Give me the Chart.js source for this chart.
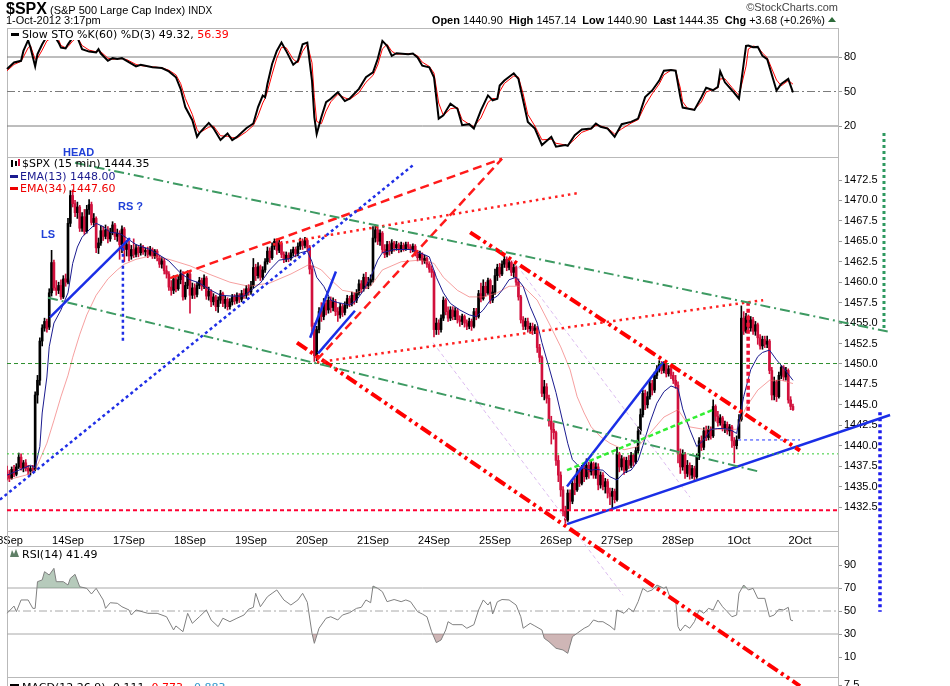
<!DOCTYPE html>
<html>
<head>
<meta charset="utf-8">
<script src="https://cdn.jsdelivr.net/npm/chart.js@4.4.1/dist/chart.umd.min.js"></script>
<style>
  html, body { margin: 0; padding: 0; background: #fff; }
  #wrap { position: relative; width: 950px; height: 686px; overflow: hidden; }
</style>
</head>
<body>
<div id="wrap"><canvas id="spxChart" width="950" height="686"></canvas></div>
<script>
// $SPX 15-minute bars, 13-Sep-2012 .. 1-Oct-2012 3:15pm, 26 bars per session
const sessions = ['13Sep', '14Sep', '17Sep', '18Sep', '19Sep', '20Sep', '21Sep', '24Sep', '25Sep', '26Sep', '27Sep', '28Sep', '1Oct', '2Oct'];
const barsPerSession = 26;

const opens = [
  1436.8,1436.4,1436.0,1437.1,1436.5,1437.4,1438.6,1437.3,1437.9,1437.2,1436.9,1437.2,1437.1,1446.2,1448.0,1452.8,1454.4,1455.2,1454.5,1458.7,1462.4,1459.3,1459.0,1459.6,1458.2,1460.4,
  1460.0,1467.2,1470.6,1469.6,1468.5,1469.2,1466.6,1468.0,1466.2,1468.9,1469.5,1467.3,1467.8,1464.2,1464.8,1466.3,1465.6,1466.4,1465.3,1466.1,1467.0,1465.6,1466.0,1464.6,1466.5,1464.0,
  1464.6,1463.2,1464.0,1463.4,1464.2,1463.6,1464.3,1463.7,1463.9,1463.4,1464.0,1463.2,1463.8,1463.0,1462.2,1462.6,1461.4,1461.0,1459.4,1459.0,1460.4,1459.2,1460.3,1461.0,1458.2,1459.6,
  1461.0,1458.4,1459.3,1458.5,1459.6,1460.2,1459.5,1460.5,1458.3,1458.9,1457.6,1458.2,1457.0,1457.8,1458.6,1457.4,1457.9,1457.0,1457.6,1458.2,1457.7,1458.4,1457.9,1458.6,1458.4,1459.2,
  1458.8,1459.6,1461.8,1460.8,1461.9,1460.6,1461.5,1462.5,1463.8,1463.0,1464.4,1465.0,1463.9,1464.8,1463.4,1462.8,1463.3,1462.9,1463.6,1464.0,1463.5,1464.4,1465.0,1464.5,1465.1,1464.3,
  1461.6,1454.6,1451.0,1454.2,1456.4,1455.8,1457.4,1456.6,1457.8,1456.9,1457.6,1456.4,1456.0,1457.0,1456.3,1457.2,1458.0,1457.4,1458.4,1457.8,1458.7,1459.8,1459.2,1460.6,1459.6,1460.0,
  1460.3,1465.4,1466.4,1465.0,1466.0,1464.0,1463.4,1464.6,1463.8,1464.8,1464.2,1464.6,1464.0,1464.5,1464.1,1464.6,1464.3,1464.0,1464.4,1463.6,1463.0,1463.4,1462.6,1462.9,1462.2,1461.6,
  1461.2,1454.2,1455.0,1454.2,1455.6,1457.8,1456.4,1455.6,1456.6,1455.8,1456.5,1455.4,1455.2,1455.8,1455.0,1454.6,1455.2,1454.6,1456.4,1455.8,1458.6,1458.0,1459.5,1458.7,1460.2,1457.8,
  1458.8,1460.8,1461.8,1461.0,1462.2,1462.8,1461.8,1462.4,1461.2,1461.8,1460.0,1458.2,1455.4,1454.6,1455.2,1454.3,1454.6,1454.1,1454.4,1452.0,1450.8,1446.4,1447.2,1445.8,1443.0,1442.0,
  1441.6,1438.2,1436.4,1434.6,1432.0,1430.9,1434.2,1433.2,1435.4,1434.6,1436.8,1435.4,1437.2,1436.2,1437.6,1436.8,1437.8,1436.4,1437.4,1435.2,1436.4,1435.0,1435.6,1434.2,1433.8,1434.4,
  1433.4,1439.0,1437.4,1438.4,1437.0,1438.2,1437.6,1438.8,1438.0,1439.4,1441.8,1443.8,1446.4,1445.0,1446.0,1447.6,1446.8,1448.6,1449.4,1450.0,1449.2,1450.0,1448.8,1449.4,1448.6,1448.0,
  1447.4,1439.0,1437.4,1439.0,1436.6,1437.6,1436.4,1437.2,1436.2,1438.6,1440.6,1439.8,1441.8,1441.0,1442.0,1441.2,1444.8,1443.6,1442.8,1443.4,1442.2,1442.6,1441.8,1442.3,1440.6,1440.0,
  1440.9,1443.2,1455.6,1454.0,1455.8,1454.4,1455.4,1454.0,1454.8,1453.2,1452.2,1453.0,1452.4,1452.8,1449.2,1446.2,1447.8,1446.0,1448.6,1449.6,1448.4,1449.2,1445.6,1444.8
];
const highs = [
  1437.5,1437.0,1437.4,1437.6,1437.8,1439.1,1439.0,1438.2,1438.3,1437.6,1437.5,1437.6,1446.6,1448.6,1453.2,1454.8,1455.6,1455.5,1459.2,1463.9,1462.7,1460.2,1460.0,1460.3,1460.8,1461.0,
  1467.8,1471.2,1471.3,1470.0,1469.8,1469.4,1468.5,1468.9,1469.4,1470.1,1469.8,1468.4,1468.0,1465.4,1466.9,1466.8,1467.0,1466.8,1466.6,1467.4,1467.2,1466.5,1466.3,1466.9,1466.7,1465.1,
  1465.0,1464.5,1465.3,1464.6,1464.5,1464.7,1464.5,1464.2,1464.3,1464.4,1464.2,1464.0,1464.0,1463.3,1463.0,1462.9,1462.0,1461.3,1460.2,1460.8,1460.6,1460.8,1461.5,1461.3,1460.0,1461.4,
  1461.2,1459.9,1459.8,1460.0,1460.6,1460.5,1460.9,1460.7,1459.4,1459.1,1458.6,1458.4,1458.2,1459.0,1458.8,1458.3,1458.1,1458.0,1458.5,1458.5,1458.7,1458.6,1459.0,1459.2,1459.6,1459.7,
  1460.1,1462.9,1462.2,1462.4,1462.1,1461.9,1462.9,1464.3,1464.2,1464.8,1465.3,1465.3,1465.2,1465.0,1463.7,1463.7,1463.6,1464.0,1464.3,1464.3,1464.8,1465.4,1465.3,1465.5,1465.3,1464.5,
  1462.0,1455.0,1454.6,1456.9,1457.5,1458.0,1457.8,1458.2,1458.2,1458.1,1457.9,1456.9,1457.4,1457.3,1457.6,1458.4,1458.3,1458.8,1458.7,1459.1,1460.3,1460.2,1461.0,1461.2,1460.6,1460.9,
  1466.8,1467.0,1466.8,1466.4,1466.2,1464.6,1465.0,1465.0,1465.2,1465.0,1465.0,1464.8,1464.9,1464.8,1464.9,1464.9,1464.6,1464.7,1464.6,1463.9,1463.8,1463.6,1463.3,1463.1,1462.5,1462.0,
  1461.4,1455.6,1455.4,1456.0,1458.2,1458.0,1457.0,1457.0,1457.0,1456.9,1456.8,1455.9,1456.1,1456.0,1455.4,1455.6,1455.5,1456.8,1456.8,1459.0,1459.9,1460.3,1460.0,1460.5,1460.4,1459.6,
  1461.6,1462.2,1462.3,1462.6,1463.2,1463.1,1462.8,1462.6,1462.2,1462.0,1460.4,1458.4,1455.8,1455.6,1455.6,1455.0,1455.0,1454.8,1454.6,1452.4,1451.0,1448.0,1447.6,1446.2,1443.6,1442.8,
  1441.8,1438.8,1436.8,1435.0,1432.6,1434.6,1434.6,1435.8,1436.0,1437.2,1437.2,1437.6,1437.8,1438.4,1438.0,1438.2,1438.0,1437.9,1437.8,1436.8,1436.7,1436.0,1435.9,1434.8,1434.8,1434.7,
  1439.8,1439.2,1438.8,1438.6,1438.6,1438.8,1439.2,1439.0,1439.8,1442.3,1444.5,1446.8,1446.8,1446.6,1448.0,1448.0,1449.0,1449.8,1450.4,1450.3,1450.3,1450.1,1449.8,1449.6,1449.0,1448.6,
  1447.8,1439.6,1439.5,1439.2,1438.2,1437.9,1437.6,1437.5,1439.0,1441.0,1441.2,1442.2,1442.4,1442.4,1442.3,1445.6,1445.0,1444.2,1443.8,1443.6,1443.0,1442.9,1442.6,1442.5,1441.0,1441.2,
  1443.8,1457.1,1456.4,1456.2,1456.0,1455.8,1455.7,1455.2,1455.0,1453.6,1453.4,1453.4,1453.4,1453.0,1449.6,1448.4,1448.0,1449.0,1449.8,1449.8,1449.6,1449.4,1446.0,1445.1
];
const lows = [
  1435.8,1435.6,1435.9,1436.2,1436.3,1437.2,1437.0,1436.8,1436.9,1436.5,1436.4,1436.7,1436.9,1445.2,1447.4,1452.2,1454.0,1453.9,1454.2,1458.3,1459.0,1458.4,1458.6,1457.9,1458.0,1459.5,
  1459.8,1466.8,1469.2,1468.0,1467.8,1466.2,1466.2,1465.8,1466.0,1468.3,1467.0,1466.8,1463.6,1463.5,1464.5,1465.1,1465.3,1464.8,1465.0,1465.8,1465.2,1465.0,1462.8,1463.6,1462.5,1463.2,
  1462.6,1462.8,1463.0,1463.1,1463.1,1463.3,1463.4,1463.2,1463.0,1463.2,1462.9,1462.9,1462.6,1461.8,1461.7,1461.0,1460.5,1459.0,1458.4,1458.6,1458.8,1459.0,1459.8,1457.8,1457.9,1459.2,
  1456.2,1458.0,1458.0,1458.2,1459.2,1459.0,1459.2,1457.9,1457.8,1457.0,1457.2,1456.5,1456.3,1457.4,1457.0,1456.8,1456.6,1456.7,1457.2,1457.3,1457.4,1457.5,1457.6,1458.0,1458.0,1458.4,
  1458.5,1459.3,1460.2,1460.5,1460.2,1460.3,1461.2,1462.2,1462.4,1462.8,1464.0,1463.4,1463.6,1463.0,1462.4,1462.5,1462.5,1462.7,1463.2,1463.1,1463.2,1464.0,1464.0,1464.2,1463.8,1461.0,
  1454.0,1450.3,1450.4,1453.8,1455.2,1455.4,1456.0,1456.2,1456.3,1456.5,1455.9,1455.2,1455.6,1455.8,1456.0,1456.8,1457.0,1457.1,1457.3,1457.5,1458.4,1458.7,1458.9,1459.2,1459.2,1459.6,
  1460.0,1464.9,1464.6,1464.5,1463.6,1463.0,1463.1,1463.3,1463.5,1463.8,1463.9,1463.6,1463.7,1463.8,1463.9,1464.0,1463.6,1463.7,1463.2,1462.6,1462.7,1462.2,1462.3,1461.8,1461.2,1460.6,
  1453.3,1453.6,1453.6,1453.9,1455.3,1456.0,1455.2,1455.3,1455.4,1455.4,1455.0,1454.6,1454.8,1454.5,1454.2,1454.3,1454.1,1454.4,1455.4,1455.6,1457.6,1457.8,1458.3,1458.5,1457.4,1457.5,
  1458.5,1460.2,1460.6,1460.8,1461.8,1461.4,1461.5,1460.8,1460.6,1459.6,1457.8,1455.0,1454.2,1454.2,1453.9,1453.8,1453.6,1453.7,1451.4,1450.2,1446.0,1445.6,1445.2,1442.4,1440.2,1440.8,
  1437.6,1435.6,1433.8,1431.4,1430.5,1430.7,1432.2,1432.9,1434.0,1434.4,1435.0,1435.2,1435.6,1435.9,1436.0,1436.4,1436.0,1436.0,1434.6,1434.8,1434.6,1434.2,1433.6,1432.8,1432.2,1433.0,
  1433.2,1436.8,1437.0,1436.5,1436.7,1437.2,1437.3,1437.5,1437.8,1439.1,1441.4,1443.5,1444.4,1444.6,1445.7,1446.2,1446.5,1448.2,1449.0,1448.8,1448.9,1448.4,1448.5,1448.2,1447.6,1447.0,
  1437.9,1436.6,1437.0,1436.0,1436.2,1435.9,1436.0,1435.8,1436.0,1438.3,1439.4,1439.5,1440.6,1440.7,1440.8,1441.0,1443.0,1442.4,1442.5,1441.8,1441.6,1441.4,1441.2,1439.8,1437.9,1439.6,
  1440.9,1443.0,1453.6,1453.8,1454.0,1454.0,1453.6,1453.5,1452.4,1451.8,1451.8,1452.0,1452.0,1448.8,1445.6,1445.6,1445.4,1445.8,1448.2,1448.0,1448.0,1445.2,1444.4,1444.3
];
const closes = [
  1436.4,1436.0,1437.1,1436.5,1437.4,1438.6,1437.3,1437.9,1437.2,1436.9,1437.2,1437.1,1446.2,1448.0,1452.8,1454.4,1455.2,1454.3,1458.7,1462.4,1459.3,1459.0,1459.6,1458.2,1460.4,1460.0,
  1467.2,1470.6,1469.6,1468.5,1469.2,1466.6,1468.0,1466.2,1468.9,1469.5,1467.3,1467.8,1464.2,1464.8,1466.3,1465.6,1466.4,1465.3,1466.1,1467.0,1465.6,1466.0,1464.6,1466.5,1464.0,1464.6,
  1463.2,1464.0,1463.4,1464.2,1463.6,1464.3,1463.7,1463.9,1463.4,1464.0,1463.2,1463.8,1463.0,1462.2,1462.6,1461.4,1461.0,1459.4,1459.0,1460.4,1459.2,1460.3,1461.0,1458.2,1459.6,1461.0,
  1458.4,1459.3,1458.5,1459.6,1460.2,1459.5,1460.5,1458.3,1458.9,1457.6,1458.2,1457.0,1457.8,1458.6,1457.4,1457.9,1457.0,1457.6,1458.2,1457.7,1458.4,1457.9,1458.6,1458.4,1459.2,1458.8,
  1459.6,1461.8,1460.8,1461.9,1460.6,1461.5,1462.5,1463.8,1463.0,1464.4,1465.0,1463.9,1464.8,1463.4,1462.8,1463.3,1462.9,1463.6,1464.0,1463.5,1464.4,1465.0,1464.5,1465.1,1464.3,1461.6,
  1454.6,1451.0,1454.2,1456.4,1455.8,1457.4,1456.6,1457.8,1456.9,1457.6,1456.4,1456.0,1457.0,1456.3,1457.2,1458.0,1457.4,1458.4,1457.8,1458.7,1459.8,1459.2,1460.6,1459.6,1460.0,1460.3,
  1465.4,1466.4,1465.0,1466.0,1464.0,1463.4,1464.6,1463.8,1464.8,1464.2,1464.6,1464.0,1464.5,1464.1,1464.6,1464.3,1464.0,1464.4,1463.6,1463.0,1463.4,1462.6,1462.9,1462.2,1461.6,1461.2,
  1454.2,1455.0,1454.2,1455.6,1457.8,1456.4,1455.6,1456.6,1455.8,1456.5,1455.4,1455.2,1455.8,1455.0,1454.6,1455.2,1454.6,1456.4,1455.8,1458.6,1458.0,1459.5,1458.7,1460.2,1457.8,1458.8,
  1460.8,1461.8,1461.0,1462.2,1462.8,1461.8,1462.4,1461.2,1461.8,1460.0,1458.2,1455.4,1454.6,1455.2,1454.3,1454.6,1454.1,1454.4,1452.0,1450.8,1446.4,1447.2,1445.8,1443.0,1442.0,1441.6,
  1438.2,1436.4,1434.6,1432.0,1430.9,1434.2,1433.2,1435.4,1434.6,1436.8,1435.4,1437.2,1436.2,1437.6,1436.8,1437.8,1436.4,1437.4,1435.2,1436.4,1435.0,1435.6,1434.2,1433.8,1434.4,1433.4,
  1439.0,1437.4,1438.4,1437.0,1438.2,1437.6,1438.8,1438.0,1439.4,1441.8,1443.8,1446.4,1445.0,1446.0,1447.6,1446.8,1448.6,1449.4,1450.0,1449.2,1450.0,1448.8,1449.4,1448.6,1448.0,1447.4,
  1439.0,1437.4,1439.0,1436.6,1437.6,1436.4,1437.2,1436.2,1438.6,1440.6,1439.8,1441.8,1441.0,1442.0,1441.2,1444.8,1443.6,1442.8,1443.4,1442.2,1442.6,1441.8,1442.3,1440.6,1440.0,1440.7,
  1443.2,1455.6,1454.0,1455.8,1454.4,1455.4,1454.0,1454.8,1453.2,1452.2,1453.0,1452.4,1452.8,1449.2,1446.2,1447.8,1446.0,1448.6,1449.6,1448.4,1449.2,1445.6,1444.8,1444.4
];

// overlays: bar index -> value
const ema13Bars = [0,10,12,14,15,17,18,20,23,26,28,30,32,35,38,41,44,47,49,52,55,61,65,69,74,78,82,87,91,96,101,104,108,112,116,121,125,128,130,132,135,138,141,143,146,149,152,155,158,160,165,172,176,180,183,186,189,193,197,200,203,206,209,211,214,217,220,223,226,228,231,234,237,239,241,244,249,251,254,257,260,263,266,269,271,274,277,280,283,286,288,291,294,297,300,303,305,308,311,314,317,320,322,325,328,331,335];
const ema13 = [1436.4,1437.6,1437.3,1439.9,1444.0,1448.4,1452.1,1455.0,1456.6,1458.7,1462.3,1464.3,1465.5,1466.4,1467.2,1466.8,1466.1,1466.0,1465.8,1465.2,1464.6,1464.0,1463.3,1462.6,1461.1,1460.3,1459.9,1459.0,1458.4,1458.3,1458.3,1459.0,1459.9,1461.5,1462.7,1462.9,1463.6,1463.8,1462.5,1460.6,1459.5,1457.8,1457.5,1457.4,1457.2,1457.8,1459.0,1460.6,1462.7,1463.6,1464.0,1464.0,1463.6,1463.1,1460.6,1458.7,1457.4,1456.6,1456.0,1455.8,1456.6,1457.8,1458.3,1459.0,1460.3,1460.6,1459.5,1457.0,1455.0,1452.6,1449.6,1446.5,1442.8,1440.3,1438.3,1437.4,1437.0,1437.1,1437.0,1436.2,1435.8,1436.7,1437.0,1438.2,1440.0,1442.8,1445.2,1446.6,1447.3,1447.0,1444.5,1442.0,1439.9,1440.7,1442.0,1442.1,1442.1,1442.0,1441.5,1446.0,1449.3,1450.9,1451.4,1451.7,1450.5,1449.5,1448.0];
const ema34Bars = [0,8,12,14,17,20,23,26,28,31,34,38,43,47,50,55,61,69,78,86,95,103,112,121,129,134,138,143,149,155,160,168,176,182,186,192,197,203,209,214,220,226,231,236,240,243,246,249,253,257,263,269,274,280,286,291,297,303,308,311,315,320,325,330,335];
const ema34 = [1435.8,1436.4,1437.0,1438.3,1440.3,1443.1,1446.0,1448.6,1450.8,1453.6,1456.0,1458.4,1460.4,1461.5,1462.2,1462.8,1463.2,1462.8,1462.0,1461.0,1460.0,1459.5,1459.9,1461.0,1462.2,1461.5,1460.3,1459.0,1458.7,1459.5,1461.5,1462.5,1462.7,1462.3,1460.6,1459.0,1458.2,1458.2,1458.7,1459.5,1459.5,1457.8,1455.0,1452.1,1449.3,1446.0,1444.0,1442.3,1441.1,1440.3,1439.5,1439.9,1441.5,1443.5,1444.4,1442.3,1442.0,1442.0,1442.0,1442.0,1444.7,1446.8,1448.0,1448.0,1447.6];

const stochBars = [0,3,6,7,9,10,12,13,15,17,20,22,23,25,26,28,30,32,35,38,39,40,43,45,47,49,51,55,57,62,66,69,72,74,76,79,81,82,86,88,91,94,96,98,102,105,107,109,110,111,113,115,117,119,122,124,126,128,130,131,132,134,136,138,141,144,146,150,153,156,158,160,162,164,166,171,173,175,177,180,182,184,186,189,192,194,197,199,202,205,207,209,210,212,216,218,220,222,225,228,232,234,238,239,242,245,249,251,253,256,259,262,266,269,272,275,278,280,283,285,287,288,290,293,296,298,301,303,304,306,309,312,315,316,318,320,322,324,328,330,333,335];
const stochK = [69.6,75.3,76.7,85.3,94.6,88.2,71.8,82.5,91.1,98,99,92.5,88.2,87.5,91,97,97,86.8,84.7,84,86.8,83,76.7,79,78.2,79,76.7,71.8,73.2,71,70.4,67.5,62.4,52.3,36.5,25,10.6,13.8,22.7,18,7.8,13.5,7.8,10.5,18,22.2,36.5,46.5,45,56.6,73.9,85.3,92.5,85.3,73.3,76.7,91.1,92.5,59.5,27.8,13,27.8,40.8,43.7,49.4,41.7,43.7,52.3,62.4,66.7,78.2,94,89.7,81,83.3,82.5,83,79.6,72.4,71,62.4,26.4,29.2,39.4,35,20.7,21.6,17.9,33.6,46.6,42.3,43.7,55.2,59.5,65.8,60.9,42.2,23.5,17.7,3.4,10.6,2,3.4,2.8,12,16.9,17.8,22.2,19.3,17.8,10.6,21.6,23.6,26.4,45.1,50.9,59.5,68.1,68.7,68.1,45.1,36,35.2,34,45.1,53.2,51.1,54,67.5,58,51.1,43.7,89.7,90,88.5,88.8,81,78.2,50.9,56.6,61,49.3];
const stochD = [68,73.5,76.2,80,88,90,78,79,86,94,98,95,90,88,89,94,97,90,86,84.5,85.5,84.5,79,78,78.5,78.6,77.8,73.5,72.5,71.5,70.6,68.5,64.5,57,44,30,17,14,19,20,11.5,11,10,9.5,15,20.5,29,40,44,50,65,79,88.5,88,78,75,85,91,75,45,24,22,33,41,47.5,44.5,43,49,58,64,73,87,91,85,82.5,82.8,82.8,81,75.5,71.8,66,40,29,35,36,25.5,21.5,19.5,27,40.5,44,43.5,50,57,63.5,62.5,48,30,20,8,8.5,5,3.5,3,8.5,14.5,17.5,20.5,20,18.3,13,17.5,22.5,25.5,38,48,56.5,64.5,68.5,68.3,53,41,35.5,34.3,41,49.5,51.8,53.2,61,61,53.5,46.5,72,87,89.5,88.7,83.5,79.5,60,55,59.5,56.4];

const rsiBars = [0,3,4,6,9,11,12,13,15,16,18,20,21,24,26,27,29,31,34,36,38,41,42,44,47,49,52,53,55,60,64,68,71,72,75,77,79,82,85,87,90,92,95,98,101,103,105,106,108,111,113,115,118,121,124,126,128,130,131,133,136,138,141,143,146,149,151,153,155,156,158,160,162,165,168,170,172,175,177,179,181,183,185,187,188,190,194,196,199,201,203,205,206,207,209,211,214,217,219,220,223,225,228,229,231,234,237,239,241,243,246,248,250,252,254,257,259,260,263,265,267,269,271,273,275,277,280,281,283,285,286,287,289,291,293,295,297,299,301,303,305,307,309,311,312,314,316,318,320,323,325,327,329,331,333,334,335];
const rsi = [48,54.3,49.4,59.6,59.6,52.3,52.3,75.5,77,84.2,81.3,87.1,75.5,75.5,72.6,78.4,81.9,71.1,69.7,64.8,69.7,59.6,52.3,57.2,56.7,53.7,50.9,46.5,50.9,48,48,45,33.5,37,32,48,39.3,45,50.9,42.2,36.4,43.7,40.7,43.7,46.5,51.5,53.2,65.4,53.7,62.4,65.4,68.3,59.6,55.2,59.6,65.4,57.6,30.6,21.9,35,43.7,45,42.2,46.5,48.5,52.3,53.2,59.6,57.2,71.7,69.7,66.8,58.1,60,58.1,59.6,58.1,49.4,47.4,45,32,22.5,24.8,33.5,40.7,38.1,38.1,35,38.1,50.9,59.6,55.2,58,47.4,58,60,59.6,55.2,45,35,39.3,37,33.5,26.3,23.3,17.6,16.1,13.2,27.7,30.6,35,37,42.2,40.7,40.7,37,33.5,50.9,48,52.3,49.4,58.1,69.7,66.8,68.3,72.6,69.7,71.1,59.6,59.6,36.4,32.6,37.8,35,40.7,50.9,48,52.3,50.9,59.6,53.7,49.4,45,46.5,65.4,72.6,68.3,69.7,61,61,45,46.5,51.5,50.9,53.2,42.2,41.5];

// axis labels and indicator levels
const priceTicks = [1432.5, 1435, 1437.5, 1440, 1442.5, 1445, 1447.5, 1450, 1452.5, 1455, 1457.5, 1460, 1462.5, 1465, 1467.5, 1470, 1472.5];
const stochTicks = [80, 50, 20];
const rsiTicks = [90, 70, 50, 30, 10];
const macdTicks = [7.5];
const stochLevels = [80, 50, 20];
const rsiLevels = [70, 50, 30];

// hand-drawn trend lines: [bar index, price]
const trendLines = [
  { from: [29, 1474.6], to: [376.4, 1453.9], style: 'greenDashDot' },
  { from: [17.5, 1458.1], to: [321, 1436.8], style: 'greenDashDot' },
  { from: [-3, 1433.4], to: [173, 1474.3], style: 'blueDotted' },
  { from: [69.5, 1460.5], to: [211, 1475.1], style: 'redDashed' },
  { from: [132.1, 1450.5], to: [211, 1475.1], style: 'redDashed' },
  { from: [113.4, 1464.6], to: [243.4, 1470.9], style: 'redDotted' },
  { from: [132.1, 1450.2], to: [322.3, 1457.8], style: 'redDotted' },
  { from: [123.6, 1452.6], to: [338, 1410.6], style: 'redDashDotDot' },
  { from: [197.4, 1466.1], to: [338, 1439.4], style: 'redDashDotDot' },
  { from: [315.9, 1457.6], to: [315.9, 1444.0], style: 'redVertical' },
  { from: [0, 1432.1], to: [354.2, 1432.1], style: 'redHorizontal' },
  { from: [0, 1450.05], to: [354.2, 1450.05], style: 'greenThinDashed' },
  { from: [0, 1439.0], to: [354.2, 1439.0], style: 'limeThinDotted' },
  { from: [311.6, 1440.7], to: [338, 1440.7], style: 'blueThinDashed' },
  { from: [238.7, 1430.4], to: [376.4, 1443.75], style: 'blueSolid' },
  { from: [238.7, 1435.0], to: [279.6, 1450.2], style: 'blueSolid' },
  { from: [238.7, 1437.0], to: [301, 1444.4], style: 'limeDashed' },
  { from: [18.3, 1455.7], to: [52.4, 1465.4], style: 'blueSolid' },
  { from: [49.4, 1464.2], to: [49.4, 1452.6], style: 'blueDotted' },
  { from: [129.2, 1453.2], to: [140.2, 1461.3], style: 'blueSolid' },
  { from: [132.6, 1451.3], to: [148.3, 1456.5], style: 'blueSolid' },
  { from: [181.6, 1452.6], to: [262.6, 1421.7], style: 'lilac' },
  { from: [215.7, 1462.7], to: [291.1, 1433.7], style: 'lilac' },
  { from: [373.8, 1478.25], to: [373.8, 1454.4], style: 'greenVertical' },
  { from: [372.1, 1444.1], to: [372.1, 1419.7], style: 'blueVertical' }
];

const lineStyles = {
  greenDashDot:    { color: '#3d9a62', width: 2,   dash: [10, 4, 2, 4] },
  blueDotted:      { color: '#1f2fe6', width: 2.5, dash: [3, 3] },
  redDashed:       { color: '#ff1a1a', width: 2.5, dash: [9, 5] },
  redDotted:       { color: '#ff2020', width: 2.5, dash: [2.5, 4] },
  redDashDotDot:   { color: '#ff0000', width: 4,   dash: [12, 4, 3, 4, 3, 4] },
  redVertical:     { color: '#ee1133', width: 3.5, dash: [4, 3] },
  redHorizontal:   { color: '#ff0033', width: 2,   dash: [4, 3] },
  greenThinDashed: { color: '#2d8f2d', width: 1,   dash: [4, 3] },
  limeThinDotted:  { color: '#33cc33', width: 1,   dash: [2, 3] },
  blueThinDashed:  { color: '#2233ff', width: 1,   dash: [3, 3] },
  blueSolid:       { color: '#1a2ee6', width: 2.5, dash: [] },
  limeDashed:      { color: '#33ee33', width: 2.5, dash: [5, 3] },
  lilac:           { color: '#dcbcf0', width: 1,   dash: [4, 3] },
  greenVertical:   { color: '#2e9960', width: 3,   dash: [3, 3] },
  blueVertical:    { color: '#1a1aee', width: 3.5, dash: [3, 3] }
};

const RED = '#d1103c';
const BLACK = '#000';
const AREA = { left: 7, top: 28, right: 838, bottom: 686 };
const X_MIN = 0, X_MAX = 354.2;

// every value axis spans the whole plot height; pick min/max so that v1 sits at pixel p1 and v2 at p2
function axisRange(v1, p1, v2, p2) {
  const perPx = (v1 - v2) / (p2 - p1);
  return { min: v1 - (AREA.bottom - p1) * perPx, max: v1 + (p1 - AREA.top) * perPx };
}
function valueAt(range, px) {
  return range.max - (px - AREA.top) * (range.max - range.min) / (AREA.bottom - AREA.top);
}
const stochRange = axisRange(80, 57, 20, 126);
const priceRange = axisRange(1472.5, 180, 1432.5, 507);
const rsiRange = axisRange(70, 588, 30, 634);
const macdRange = axisRange(7.5, 685, 0, 735);

const tickFont = { family: 'Arial, "Liberation Sans", sans-serif', size: 11 };
function panelAxis(range, ticks, fmt) {
  return {
    type: 'linear', position: 'right', min: range.min, max: range.max,
    afterBuildTicks: s => { s.ticks = ticks.map(v => ({ value: v })); },
    afterFit: s => { s.width = 0; s.paddingTop = 0; s.paddingBottom = 0; },
    grid: { display: true, drawOnChartArea: false, drawTicks: true, tickLength: 4, color: '#9a9a9a' },
    border: { display: false },
    ticks: { padding: 2, color: '#000', font: tickFont, autoSkip: false, callback: fmt }
  };
}

const pts = (bars, vals) => bars.map((b, k) => ({ x: b, y: vals[k] }));
function lineSet(data, yAxisID, color, width, extra) {
  return Object.assign({ type: 'line', data, yAxisID, borderColor: color, borderWidth: width,
    pointRadius: 0, fill: false, tension: 0 }, extra || {});
}
const levelLine = (axis, v, color) => lineSet([{ x: X_MIN, y: v }, { x: X_MAX, y: v }], axis, color, 1,
  { borderDash: v === 50 ? [8, 3, 2, 3] : [], order: 9 });

const isDown = i => closes[i] < opens[i];
const candleColor = ctx => isDown(ctx.dataIndex) ? RED : BLACK;

const datasets = [];
stochLevels.forEach(v => datasets.push(levelLine('stoch', v, '#7c7c7c')));
rsiLevels.forEach(v => datasets.push(levelLine('rsi', v, '#a8a8a8')));

datasets.push({ type: 'bar', yAxisID: 'price', order: 8, grouped: false, barThickness: 1,
  data: closes.map((c, i) => ({ x: i, y: [lows[i], highs[i]] })), backgroundColor: candleColor });
datasets.push({ type: 'bar', yAxisID: 'price', order: 7, grouped: false, barThickness: 2, minBarLength: 1,
  data: closes.map((c, i) => ({ x: i, y: [opens[i], c] })), backgroundColor: candleColor });

datasets.push(lineSet(pts(ema34Bars, ema34), 'price', 'rgba(240,96,96,0.6)', 1, { order: 6 }));
datasets.push(lineSet(pts(ema13Bars, ema13), 'price', '#1b1b8f', 1, { order: 5 }));

datasets.push(lineSet(pts(stochBars, stochD), 'stoch', '#ff0000', 1, { order: 5 }));
datasets.push(lineSet(pts(stochBars, stochK), 'stoch', '#000', 2, { order: 4 }));

datasets.push(lineSet(pts(rsiBars, rsi), 'rsi', 'rgba(0,0,0,0)', 0,
  { order: 6, fill: { target: { value: 70 }, above: 'rgba(110,150,120,0.5)', below: 'rgba(0,0,0,0)' } }));
datasets.push(lineSet(pts(rsiBars, rsi), 'rsi', 'rgba(0,0,0,0)', 0,
  { order: 6, fill: { target: { value: 30 }, above: 'rgba(0,0,0,0)', below: 'rgba(160,110,110,0.5)' } }));
datasets.push(lineSet(pts(rsiBars, rsi), 'rsi', '#808080', 1, { order: 4 }));

trendLines.forEach(t => {
  const st = lineStyles[t.style];
  datasets.push(lineSet([{ x: t.from[0], y: t.from[1] }, { x: t.to[0], y: t.to[1] }], 'price',
    st.color, st.width, { borderDash: st.dash, clip: false, order: t.style === 'lilac' ? 3 : 1 }));
});

function runText(ctx, x, y, parts) {
  for (const [text, font, color] of parts) {
    ctx.font = font; ctx.fillStyle = color; ctx.fillText(text, x, y);
    x += ctx.measureText(text).width;
  }
  return x;
}
function textWidth(ctx, parts) {
  let w = 0;
  for (const [text, font] of parts) { ctx.font = font; w += ctx.measureText(text).width; }
  return w;
}

const LEG = '11px "DejaVu Sans", Verdana, sans-serif';
const panels = [[28, 157], [157, 531], [546, 677], [677, 700]];

const scFrame = {
  id: 'scFrame',
  afterLayout(chart) {
    // value axes are laid out with zero width; give their labels room to the right of the plot
    ['stoch', 'price', 'rsi', 'macd'].forEach(id => { chart.scales[id].right = chart.scales[id].left + 110; });
  },
  beforeDatasetsDraw(chart) {
    const ctx = chart.ctx;
    ctx.save();
    ctx.strokeStyle = '#b9b9b9';
    ctx.lineWidth = 1;
    panels.forEach(([t, b]) => ctx.strokeRect(AREA.left + 0.5, t + 0.5, AREA.right - AREA.left, b - t));
    ctx.beginPath();
    ctx.moveTo(AREA.left + 0.5, 28); ctx.lineTo(AREA.left + 0.5, 686);
    ctx.moveTo(AREA.right + 0.5, 28); ctx.lineTo(AREA.right + 0.5, 686);
    ctx.stroke();
    ctx.restore();
  },
  afterDatasetsDraw(chart) {
    const ctx = chart.ctx;
    ctx.save();
    ctx.textBaseline = 'alphabetic';

    // header
    runText(ctx, 6, 14, [['$SPX', 'bold 16px Arial, "Liberation Sans"', '#000'],
      [' (S&P 500 Large Cap Index) ', '11px Arial, "Liberation Sans"', '#000'],
      ['INDX', '10px Arial, "Liberation Sans"', '#000']]);
    runText(ctx, 6, 24, [['1-Oct-2012 3:17pm', '11px Arial, "Liberation Sans"', '#000']]);
    const B = 'bold 11px Arial, "Liberation Sans"', N = '11px Arial, "Liberation Sans"';
    const quote = [['Open ', B, '#000'], ['1440.90  ', N, '#000'], ['High ', B, '#000'], ['1457.14  ', N, '#000'],
      ['Low ', B, '#000'], ['1440.90  ', N, '#000'], ['Last ', B, '#000'], ['1444.35  ', N, '#000'],
      ['Chg ', B, '#000'], ['+3.68 (+0.26%)', N, '#000']];
    runText(ctx, 825 - textWidth(ctx, quote), 24, quote);
    ctx.fillStyle = '#2e6b3a';
    ctx.beginPath(); ctx.moveTo(828, 22); ctx.lineTo(836, 22); ctx.lineTo(832, 17); ctx.closePath(); ctx.fill();
    ctx.font = '11px Arial, "Liberation Sans"'; ctx.fillStyle = '#444'; ctx.textAlign = 'right';
    ctx.fillText('\u00A9StockCharts.com', 838, 11);
    ctx.textAlign = 'left';

    // stochastic legend plate
    ctx.fillStyle = '#fff';
    ctx.fillRect(8, 29, 228, 11);
    ctx.fillStyle = '#000'; ctx.fillRect(11, 33, 8, 3);
    runText(ctx, 22, 38, [['Slow STO %K(60) %D(3) 49.32, ', LEG, '#000'], ['56.39', LEG, '#ff0000']]);

    // price legend
    ctx.fillStyle = '#000'; ctx.fillRect(11, 160, 2, 7); ctx.fillRect(15, 161, 2, 5);
    ctx.fillStyle = RED; ctx.fillRect(18, 159, 2, 7);
    runText(ctx, 22, 167, [['$SPX (15 min) 1444.35', LEG, '#000']]);
    ctx.fillStyle = '#1b1b8f'; ctx.fillRect(10, 175, 8, 3);
    runText(ctx, 20, 180, [['EMA(13) 1448.00', LEG, '#1b1b8f']]);
    ctx.fillStyle = '#ee0000'; ctx.fillRect(10, 187, 8, 3);
    runText(ctx, 20, 192, [['EMA(34) 1447.60', LEG, '#ee0000']]);

    // pattern notes
    const NOTE = 'bold 11px Arial, "Liberation Sans"';
    runText(ctx, 63, 156, [['HEAD', NOTE, '#2040d8']]);
    runText(ctx, 41, 238, [['LS', NOTE, '#2040d8']]);
    runText(ctx, 118, 210, [['RS ?', NOTE, '#2040d8']]);

    // RSI legend
    ctx.fillStyle = '#5f7f66';
    ctx.beginPath(); ctx.moveTo(10, 557); ctx.lineTo(12, 550); ctx.lineTo(14, 554); ctx.lineTo(16, 549); ctx.lineTo(19, 557); ctx.closePath(); ctx.fill();
    runText(ctx, 22, 558, [['RSI(14) 41.49', LEG, '#000']]);

    // MACD legend (cut by the window edge)
    ctx.fillStyle = '#000'; ctx.fillRect(10, 684, 9, 3);
    runText(ctx, 22, 691, [['MACD(12,26,9) -0.111  ', LEG, '#000'], ['0.773  ', LEG, '#ff0000'], ['-0.883', LEG, '#3399cc']]);
    ctx.restore();
  }
};

new Chart(document.getElementById('spxChart'), {
  type: 'line',
  data: { datasets },
  plugins: [scFrame],
  options: {
    responsive: false,
    animation: false,
    events: [],
    layout: { autoPadding: false, padding: { left: AREA.left, top: AREA.top, right: 950 - AREA.right, bottom: 0 } },
    plugins: { legend: { display: false }, tooltip: { enabled: false } },
    scales: {
      x: {
        type: 'linear', bounds: 'data', offset: false,
        position: { price: valueAt(priceRange, 531) },
        afterDataLimits: s => { s.min = X_MIN; s.max = X_MAX; },
        afterBuildTicks: s => { s.ticks = sessions.map((_, d) => ({ value: d * barsPerSession })); },
        afterFit: s => { s.paddingLeft = 0; s.paddingRight = 0; },
        grid: { display: false, drawTicks: false, offset: false },
        border: { display: false },
        ticks: { autoSkip: false, maxRotation: 0, minRotation: 0, padding: 3, color: '#000', font: tickFont,
          callback: (v, i) => sessions[i] }
      },
      stoch: panelAxis(stochRange, stochTicks, v => String(v)),
      price: panelAxis(priceRange, priceTicks, v => v.toFixed(1)),
      rsi: panelAxis(rsiRange, rsiTicks, v => String(v)),
      macd: panelAxis(macdRange, macdTicks, v => v.toFixed(1))
    }
  }
});
</script>
</body>
</html>
